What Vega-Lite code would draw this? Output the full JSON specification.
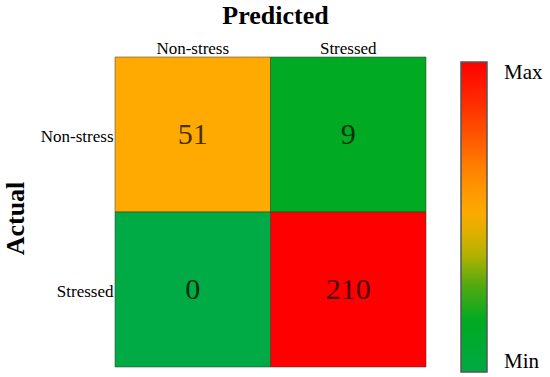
{
  "$schema": "https://vega.github.io/schema/vega-lite/v6.json",
  "autosize": "none",
  "padding": {"left": 115, "top": 57, "right": 124, "bottom": 10},
  "width": 311,
  "height": 310,
  "background": "white",
  "config": {"view": {"stroke": null}, "font": "Liberation Serif"},
  "data": {
    "values": [
      {"actual": "Non-stress", "predicted": "Non-stress", "count": 51},
      {"actual": "Non-stress", "predicted": "Stressed", "count": 9},
      {"actual": "Stressed", "predicted": "Non-stress", "count": 0},
      {"actual": "Stressed", "predicted": "Stressed", "count": 210}
    ]
  },
  "encoding": {
    "x": {
      "field": "predicted",
      "type": "nominal",
      "sort": ["Non-stress", "Stressed"],
      "scale": {"paddingInner": 0, "paddingOuter": 0},
      "axis": {
        "orient": "top",
        "title": "Predicted",
        "titleFont": "Liberation Serif",
        "titleFontSize": 26,
        "titleFontWeight": "bold",
        "titleColor": "#000",
        "titleX": 160,
        "titleY": -34,
        "titleBaseline": "alphabetic",
        "titleAlign": "center",
        "labelAngle": 0,
        "labelFont": "Liberation Serif",
        "labelFontSize": 17,
        "labelColor": "#000",
        "labelBaseline": "alphabetic",
        "labelPadding": 4,
        "ticks": false,
        "tickSize": 0,
        "domain": false
      }
    },
    "y": {
      "field": "actual",
      "type": "nominal",
      "sort": ["Non-stress", "Stressed"],
      "scale": {"paddingInner": 0, "paddingOuter": 0},
      "axis": {
        "title": "Actual",
        "titleFont": "Liberation Serif",
        "titleFontSize": 26,
        "titleFontWeight": "bold",
        "titleColor": "#000",
        "titleX": -92,
        "titleY": 161,
        "titleAngle": -90,
        "titleBaseline": "alphabetic",
        "titleAlign": "center",
        "labelFont": "Liberation Serif",
        "labelFontSize": 17,
        "labelColor": "#000",
        "labelPadding": 2,
        "labelOffset": 2,
        "labelBaseline": "middle",
        "ticks": false,
        "tickSize": 0,
        "domain": false
      }
    }
  },
  "layer": [
    {
      "mark": {"type": "rect", "stroke": "#333", "strokeWidth": 1, "strokeOpacity": 0.5},
      "encoding": {
        "color": {
          "field": "count",
          "type": "quantitative",
          "scale": {
            "type": "symlog",
            "constant": 20,
            "domain": [0, 9, 14, 20, 26, 33, 51, 75, 139, 210],
            "range": ["#00AA44", "#00AA22", "#00AA22", "#55AA10", "#90B000", "#C8B400", "#FFAA00", "#FF8800", "#FF3300", "#FF0000"],
            "interpolate": "rgb",
            "nice": false,
            "zero": false
          },
          "legend": {
            "orient": "none",
            "legendX": 346,
            "legendY": 5,
            "direction": "vertical",
            "padding": 0,
            "title": null,
            "gradientLength": 310,
            "gradientThickness": 26,
            "gradientStrokeColor": "#555",
            "gradientStrokeWidth": 1.5,
            "values": [0, 210],
            "labelExpr": "datum.value >= 210 ? 'Max' : 'Min'",
            "labelFont": "Liberation Serif",
            "labelFontSize": 21,
            "labelColor": "#000",
            "labelOffset": 17
          }
        }
      }
    },
    {
      "mark": {"type": "text", "fontSize": 30, "font": "Liberation Serif", "color": "#000", "opacity": 0.72, "baseline": "middle"},
      "encoding": {
        "text": {"field": "count", "type": "quantitative"}
      }
    }
  ]
}
